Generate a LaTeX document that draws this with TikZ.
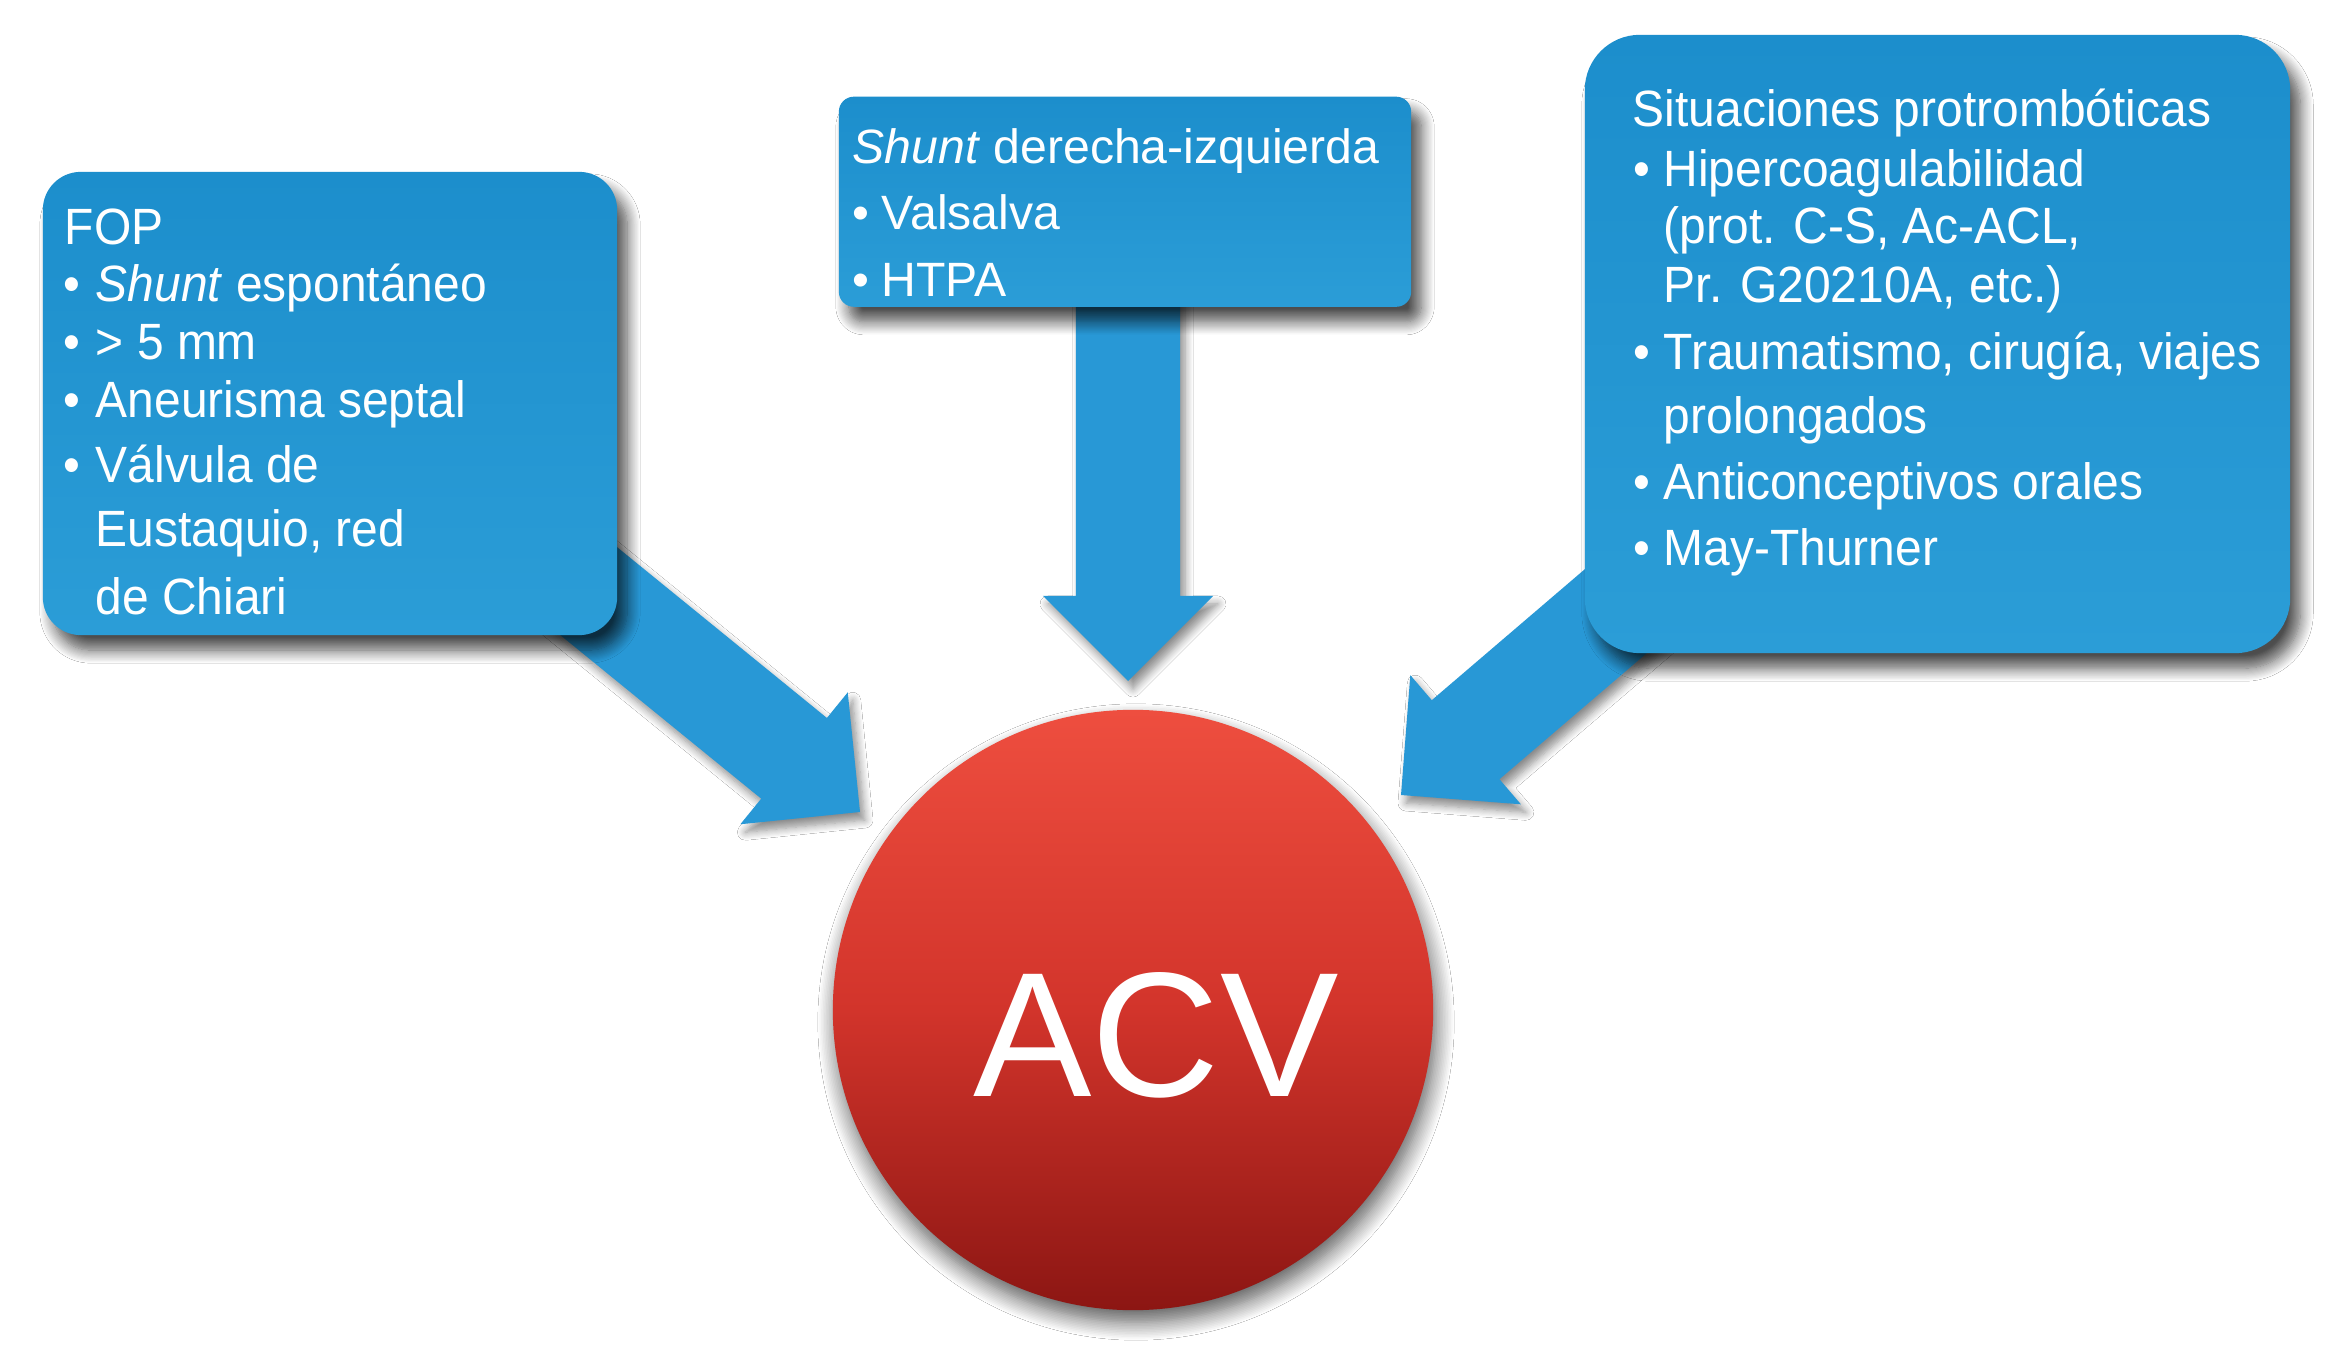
\documentclass[tikz,border=0pt]{standalone}
\usepackage{fontspec}
\setmainfont{Liberation Sans}
\newfontfamily\condfont[FakeStretch=0.94]{Liberation Sans}
\usetikzlibrary{calc,shadows.blur}
\definecolor{boxtop}{HTML}{1C8ECC}
\definecolor{boxbot}{HTML}{2B9DD7}
\definecolor{arrowblue}{HTML}{2898D6}
\definecolor{redtop}{HTML}{EE4E3F}
\definecolor{redmid}{HTML}{D2342B}
\definecolor{redbot}{HTML}{8C1613}
\newcommand\bul[1]{\makebox[#1][l]{•}}
\newcommand\blockarrow[3]{%
  \coordinate (#3hb) at ($(#2)!0.85cm!(#1)$);
  \fill[arrowfill] ($(#1)!0.52cm!90:(#2)$) -- ($(#3hb)!0.52cm!90:(#2)$)
    -- ($(#3hb)!0.85cm!90:(#2)$) -- (#2) -- ($(#3hb)!0.85cm!-90:(#2)$)
    -- ($(#3hb)!0.52cm!-90:(#2)$) -- ($(#1)!0.52cm!-90:(#2)$) -- cycle;}
\begin{document}
\begin{tikzpicture}[x=0.01cm,y=-0.01cm,
  boxstyle/.style={rounded corners=#1, top color=boxtop, bottom color=boxbot, draw=none,
    inner sep=0pt,
    blur shadow={shadow xshift=0.1cm, shadow yshift=-0.15cm, shadow blur radius=0.13cm,
      shadow blur steps=12, shadow opacity=70}},
  arrowfill/.style={fill=arrowblue,
    blur shadow={shadow xshift=0.05cm, shadow yshift=-0.08cm, shadow blur radius=0.08cm,
      shadow blur steps=8, shadow opacity=45}},
  txt/.style={anchor=base west, inner sep=0pt, text=white,
    font=\condfont\fontsize{14.51pt}{17pt}\selectfont},
  txtm/.style={anchor=base west, inner sep=0pt, text=white,
    font=\fontsize{13.7pt}{16pt}\selectfont},
  circ/.style={circle, minimum size=6cm, inner sep=0pt, draw=none,
    top color=redtop, bottom color=redbot, middle color=redmid,
    blur shadow={shadow xshift=0.03cm, shadow yshift=-0.12cm, shadow blur radius=0.18cm,
      shadow blur steps=12, shadow opacity=65}}
]
\useasboundingbox[fill=white] (0,0) rectangle (2333,1370);

% arrow end points
\coordinate (sL) at (534.5,547);
\coordinate (tL) at (860,812);
\coordinate (sM) at (1128,250);
\coordinate (tM) at (1128,681);
\coordinate (sR) at (1720,522);
\coordinate (tR) at (1401,795);

% arrows (behind the boxes)
\blockarrow{sL}{tL}{aL}
\blockarrow{sM}{tM}{aM}
\blockarrow{sR}{tR}{aR}

% boxes
\node[boxstyle=0.38cm, minimum width=5.74cm, minimum height=4.63cm] (fop) at (330,403.5) {};
\node[boxstyle=0.15cm, minimum width=5.72cm, minimum height=2.10cm] (shunt) at (1125,201.75) {};
\node[boxstyle=0.55cm, minimum width=7.05cm, minimum height=6.18cm] (proto) at (1937.5,344) {};

% circle
\node[circ] (acv) at (1133,1010) {};
\node[anchor=base, inner sep=0pt, text=white, font=\fontsize{50.5pt}{60pt}\selectfont] (acvt) at (1156,1096) {ACV};

% FOP text
\node[txt] (f0) at (64,245) {FOP};
\node[txt] (f1) at (63,302) {\bul{0.32cm}\textit{Shunt} espontáneo};
\node[txt] (f2) at (63,360) {\bul{0.32cm}> 5 mm};
\node[txt] (f3) at (63,418) {\bul{0.32cm}Aneurisma septal};
\node[txt] (f4) at (63,483) {\bul{0.32cm}Válvula de};
\node[txt] (f5) at (95,547) {Eustaquio, red};
\node[txt] (f6) at (95,614) {de Chiari};

% Shunt text
\node[txtm] (m0) at (852,164) {\textit{Shunt} derecha-izquierda};
\node[txtm] (m1) at (852,230) {\bul{0.29cm}Valsalva};
\node[txtm] (m2) at (852,297) {\bul{0.29cm}HTPA};

% protrombotic text
\node[txt] (p0) at (1632,127) {Situaciones protrombóticas};
\node[txt] (p1) at (1633,187) {\bul{0.30cm}Hipercoagulabilidad};
\node[txt] (p2) at (1663,244) {(prot. C-S, Ac-ACL,};
\node[txt] (p3) at (1663,303) {Pr. G20210A, etc.)};
\node[txt] (p4) at (1633,370) {\bul{0.30cm}Traumatismo, cirugía, viajes};
\node[txt] (p5) at (1663,434) {prolongados};
\node[txt] (p6) at (1633,500) {\bul{0.30cm}Anticonceptivos orales};
\node[txt] (p7) at (1633,565) {\bul{0.30cm}May-Thurner};
\end{tikzpicture}
\end{document}
